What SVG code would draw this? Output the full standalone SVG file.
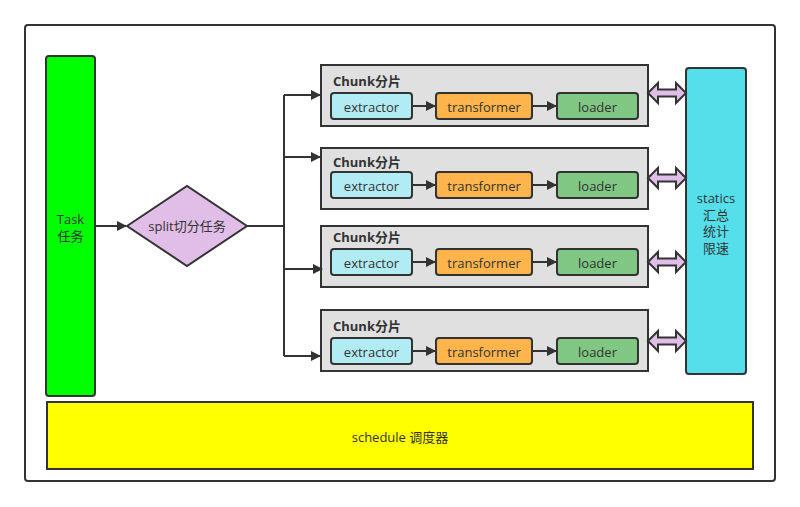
<svg xmlns="http://www.w3.org/2000/svg" width="800" height="507" viewBox="0 0 800 507">
<defs>
<marker id="ah" markerWidth="10" markerHeight="10" refX="9" refY="5" orient="auto" markerUnits="userSpaceOnUse">
<path d="M0,0 L10,5 L0,10 Z" fill="#333"/>
</marker>
<path id="dbl" d="M0,0 L10,-10 L10,-3.5 L28,-3.5 L28,-10 L38,0 L28,10 L28,3.5 L10,3.5 L10,10 Z"/>
</defs>
<style>
text{font-family:"Open Sans","Noto Sans","Noto Sans CJK SC",sans-serif;fill:#333;font-size:13px;}
.c{text-anchor:middle;}
.bold{font-weight:bold;}
.chunk{fill:#e0e0e0;stroke:#333;stroke-width:2;}
.ex{fill:#b1ebf3;stroke:#333;stroke-width:2;}
.tr{fill:#ffb54c;stroke:#333;stroke-width:2;}
.ld{fill:#7fc782;stroke:#333;stroke-width:2;}
.ln{fill:none;stroke:#333;stroke-width:2;}
.dbl{fill:#e1bee7;stroke:#333;stroke-width:2;}
</style>
<rect x="25" y="25" width="750" height="456" rx="3" fill="#fff" stroke="#333" stroke-width="2"/>

<g id="task">
<rect x="46" y="56" width="49" height="340" rx="3" fill="#00ff00" stroke="#333" stroke-width="2"/>
<text x="70.5" y="224" class="c"><tspan x="70.5">Task</tspan><tspan x="70.5" dy="17">任务</tspan></text>
</g>

<g id="split">
<path d="M127,226 L187,186 L247,226 L187,266 Z" fill="#e1bee7" stroke="#333" stroke-width="2"/>
<text x="187" y="231" class="c">split切分任务</text>
</g>

<g id="chunk1">
<rect x="321" y="65" width="327" height="61" class="chunk"/>
<text x="333" y="86" class="bold">Chunk分片</text>
<rect x="331" y="93" width="81" height="26" rx="3" class="ex"/>
<text x="371.5" y="111.5" class="c">extractor</text>
<rect x="436" y="93" width="96" height="26" rx="3" class="tr"/>
<text x="484" y="111.5" class="c">transformer</text>
<rect x="557" y="93" width="81" height="26" rx="3" class="ld"/>
<text x="597.5" y="111.5" class="c">loader</text>
</g>

<g id="chunk2">
<rect x="321" y="148" width="327" height="61" class="chunk"/>
<text x="333" y="167" class="bold">Chunk分片</text>
<rect x="331" y="172" width="81" height="26" rx="3" class="ex"/>
<text x="371.5" y="190.5" class="c">extractor</text>
<rect x="436" y="172" width="96" height="26" rx="3" class="tr"/>
<text x="484" y="190.5" class="c">transformer</text>
<rect x="557" y="172" width="81" height="26" rx="3" class="ld"/>
<text x="597.5" y="190.5" class="c">loader</text>
</g>

<g id="chunk3">
<rect x="321" y="226" width="327" height="61" class="chunk"/>
<text x="333" y="242" class="bold">Chunk分片</text>
<rect x="331" y="249" width="81" height="26" rx="3" class="ex"/>
<text x="371.5" y="267.5" class="c">extractor</text>
<rect x="436" y="249" width="96" height="26" rx="3" class="tr"/>
<text x="484" y="267.5" class="c">transformer</text>
<rect x="557" y="249" width="81" height="26" rx="3" class="ld"/>
<text x="597.5" y="267.5" class="c">loader</text>
</g>

<g id="chunk4">
<rect x="321" y="310" width="327" height="61" class="chunk"/>
<text x="333" y="331" class="bold">Chunk分片</text>
<rect x="331" y="338" width="81" height="26" rx="3" class="ex"/>
<text x="371.5" y="356.5" class="c">extractor</text>
<rect x="436" y="338" width="96" height="26" rx="3" class="tr"/>
<text x="484" y="356.5" class="c">transformer</text>
<rect x="557" y="338" width="81" height="26" rx="3" class="ld"/>
<text x="597.5" y="356.5" class="c">loader</text>
</g>

<g id="statics">
<rect x="686" y="68" width="60" height="306" rx="3" fill="#54dfeb" stroke="#333" stroke-width="2"/>
<text x="716" y="203" class="c"><tspan x="716">statics</tspan><tspan x="716" dy="16.5">汇总</tspan><tspan x="716" dy="16.5">统计</tspan><tspan x="716" dy="16.5">限速</tspan></text>
</g>

<g id="schedule">
<rect x="47" y="402" width="706" height="67" fill="#ffff00" stroke="#333" stroke-width="2"/>
<text x="400" y="441.5" class="c">schedule 调度器</text>
</g>

<g id="connectors">
<line x1="95" y1="226" x2="126" y2="226" class="ln" marker-end="url(#ah)"/>
<polyline points="247,226 284,226" class="ln"/>
<line x1="284" y1="95" x2="284" y2="356" class="ln"/>
<line x1="284" y1="95" x2="320" y2="95" class="ln" marker-end="url(#ah)"/>
<line x1="284" y1="157" x2="320" y2="157" class="ln" marker-end="url(#ah)"/>
<line x1="284" y1="269" x2="322" y2="269" class="ln" marker-end="url(#ah)"/>
<line x1="284" y1="356" x2="320" y2="356" class="ln" marker-end="url(#ah)"/>
<line x1="412" y1="106" x2="435" y2="106" class="ln" marker-end="url(#ah)"/>
<line x1="532" y1="106" x2="556" y2="106" class="ln" marker-end="url(#ah)"/>
<line x1="412" y1="185" x2="435" y2="185" class="ln" marker-end="url(#ah)"/>
<line x1="532" y1="185" x2="556" y2="185" class="ln" marker-end="url(#ah)"/>
<line x1="412" y1="262" x2="435" y2="262" class="ln" marker-end="url(#ah)"/>
<line x1="532" y1="262" x2="556" y2="262" class="ln" marker-end="url(#ah)"/>
<line x1="412" y1="351" x2="435" y2="351" class="ln" marker-end="url(#ah)"/>
<line x1="532" y1="351" x2="556" y2="351" class="ln" marker-end="url(#ah)"/>
<use href="#dbl" x="648" y="93" class="dbl"/>
<use href="#dbl" x="648" y="178" class="dbl"/>
<use href="#dbl" x="648" y="262" class="dbl"/>
<use href="#dbl" x="648" y="341" class="dbl"/>
</g>
</svg>
